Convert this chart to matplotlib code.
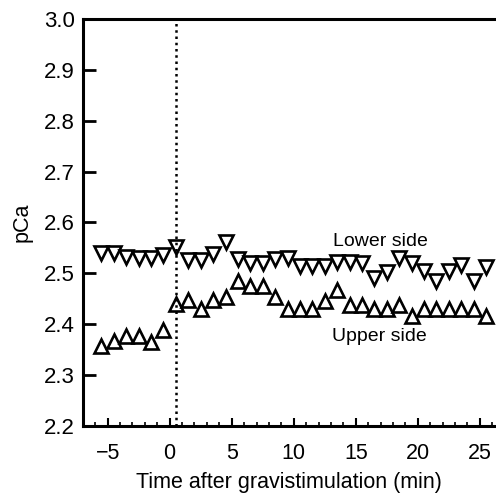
import matplotlib
matplotlib.use("Agg")
import matplotlib.pyplot as plt
from matplotlib.ticker import MultipleLocator, FormatStrFormatter

plt.rcParams['font.family'] = ['Liberation Sans', 'DejaVu Sans']

# time points (min after gravistimulation)
times = [-5.5, -4.5, -3.5, -2.5, -1.5, -0.5, 0.5, 1.5, 2.5, 3.5, 4.5,
         5.5, 6.5, 7.5, 8.5, 9.5, 10.5, 11.5, 12.5, 13.5, 14.5, 15.5,
         16.5, 17.5, 18.5, 19.5, 20.5, 21.5, 22.5, 23.5, 24.5, 25.5]

# pCa, lower side of the root
lower_side = [2.539, 2.539, 2.532, 2.530, 2.530, 2.535, 2.551, 2.527, 2.527, 2.537, 2.561,
              2.529, 2.521, 2.521, 2.529, 2.531, 2.514, 2.514, 2.514, 2.523, 2.523, 2.521,
              2.490, 2.502, 2.531, 2.521, 2.504, 2.484, 2.504, 2.516, 2.484, 2.512]

# pCa, upper side of the root
upper_side = [2.357, 2.367, 2.376, 2.376, 2.365, 2.388, 2.439, 2.447, 2.429, 2.447, 2.453,
              2.484, 2.475, 2.475, 2.453, 2.429, 2.429, 2.429, 2.445, 2.468, 2.437, 2.437,
              2.429, 2.429, 2.437, 2.416, 2.429, 2.429, 2.429, 2.429, 2.429, 2.416]

stim_time = 0.5

fig = plt.figure(figsize=(4.96, 4.97), dpi=100)
ax = fig.add_axes([0.167, 0.143, 0.833, 0.819])

ax.plot(times, lower_side, linestyle='none', marker='v', markersize=9.5,
        markerfacecolor='white', markeredgecolor='black', markeredgewidth=1.9,
        clip_on=False)
ax.plot(times, upper_side, linestyle='none', marker='^', markersize=9.5,
        markerfacecolor='white', markeredgecolor='black', markeredgewidth=1.9,
        clip_on=False)

ax.axvline(stim_time, color='black', linestyle=(0, (1, 1.5)), linewidth=1.8)

ax.text(17.0, 2.563, 'Lower side', fontsize=14, ha='center', va='center')
ax.text(16.9, 2.376, 'Upper side', fontsize=14, ha='center', va='center')

ax.set_xlim(-7, 26.3)
ax.set_ylim(2.2, 3.0)
ax.xaxis.set_major_locator(MultipleLocator(5))
ax.xaxis.set_minor_locator(MultipleLocator(1))
ax.yaxis.set_major_locator(MultipleLocator(0.1))
ax.yaxis.set_major_formatter(FormatStrFormatter('%.1f'))

ax.spines['right'].set_visible(False)
for side in ['left', 'bottom', 'top']:
    ax.spines[side].set_linewidth(2.2)

ax.tick_params(axis='y', which='major', direction='in', length=9, width=2,
               labelsize=16, pad=6)
ax.tick_params(axis='x', which='major', direction='in', length=6, width=1.5,
               labelsize=15.5, pad=12)
ax.tick_params(axis='x', which='minor', direction='in', length=3, width=1.2)

ax.set_xlabel('Time after gravistimulation (min)', fontsize=15.5, labelpad=6)
ax.set_ylabel('pCa', fontsize=15.5, labelpad=8)

fig.savefig('out.png', dpi=100)
